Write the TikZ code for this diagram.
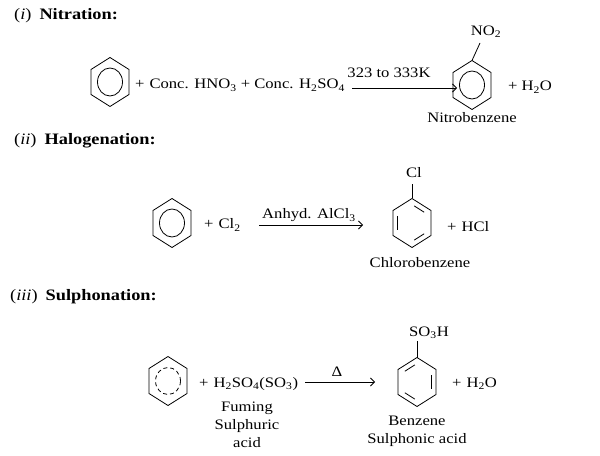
\documentclass[tikz,border=0pt]{standalone}
\usepackage{fontspec}
\setmainfont{Liberation Serif}[FakeStretch=1.15]
\usetikzlibrary{arrows.meta,calc}
\newcommand{\chs}[1]{\textsubscript{#1}}
\newcommand{\ringpath}{(0,-24.5)--(19,-12.5)--(19,12.5)--(0,24.5)--(-19,12.5)--(-19,-12.5)--cycle}
\tikzset{
  txt/.style={inner sep=0pt, font=\fontsize{14.5}{18}\selectfont},
  ttl/.style={inner sep=0pt, anchor=base west, font=\fontsize{16}{18}\selectfont},
  rarrow/.style={-{Straight Barb[length=4bp,width=8bp]}, line width=0.8bp},
  bond/.style={line width=0.8bp, line join=miter},
  aromatic/.pic={
    \coordinate (-top) at (0,-24.5);
    \draw[bond] \ringpath;
    \draw[bond] (0,0) ellipse [x radius=12.5bp, y radius=14bp];
  },
  dashring/.pic={
    \coordinate (-top) at (0,-24.5);
    \draw[bond] \ringpath;
    \draw[bond, dash pattern=on 4bp off 3bp] (0,0) ellipse [x radius=12.5bp, y radius=13.5bp];
  },
  kekR/.pic={
    \coordinate (-top) at (0,-24.5);
    \draw[bond] \ringpath;
    \draw[bond] ($(0,-18.5)!0.15!(14.3,-9.4)$) -- ($(0,-18.5)!0.85!(14.3,-9.4)$);
    \draw[bond] (-14.3,-7) -- (-14.3,7);
    \draw[bond] ($(14.3,9.4)!0.15!(0,18.5)$) -- ($(14.3,9.4)!0.85!(0,18.5)$);
  },
  kekL/.pic={
    \coordinate (-top) at (0,-24.5);
    \draw[bond] \ringpath;
    \draw[bond] ($(0,-18.5)!0.15!(-14.3,-9.4)$) -- ($(0,-18.5)!0.85!(-14.3,-9.4)$);
    \draw[bond] (14.3,-7) -- (14.3,7);
    \draw[bond] ($(-14.3,9.4)!0.15!(0,18.5)$) -- ($(-14.3,9.4)!0.85!(0,18.5)$);
  }
}
\begin{document}
\begin{tikzpicture}[x=1bp,y=-1bp]
\fill[white] (0,0) rectangle (600,456);
\useasboundingbox (0,0) rectangle (600,456);

% titles
\node[ttl] (t1) at (14,20) {(\textit{i})\hspace{8bp}\textbf{Nitration:}};
\node[ttl] (t2) at (14,145) {(\textit{ii})\hspace{8bp}\textbf{Halogenation:}};
\node[ttl] (t3) at (10,300) {(\textit{iii})\hspace{8bp}\textbf{Sulphonation:}};

% (i) Nitration
\pic (r1) at (110,82) {aromatic};
\node[txt, anchor=base west] (r1rest) at (135,89) {+\hspace{5bp}Conc. HNO\chs{3} + Conc. H\chs{2}SO\chs{4}};
\coordinate (a1s) at (352,88);
\coordinate (a1e) at (457,88);
\draw[rarrow] (a1s) -- (a1e);
\node[txt, anchor=base] (a1l) at (389,78) {323 to 333K};
\pic (p1) at (472,85) {aromatic};
\node[txt] (no2) at (486,32) {NO\chs{2}};
\coordinate (no2b) at (480,43);
\draw[bond] (p1-top) -- (no2b);
\node[txt] (nitro) at (472,118) {Nitrobenzene};
\node[txt, anchor=base west] (h2o1) at (508,91) {+\hspace{4bp}H\chs{2}O};

% (ii) Halogenation
\pic (r2) at (172,223) {aromatic};
\node[txt, anchor=base west] (cl2) at (204,229) {+\hspace{5bp}Cl\chs{2}};
\coordinate (a2s) at (259,225);
\coordinate (a2e) at (363,225);
\draw[rarrow] (a2s) -- (a2e);
\node[txt, anchor=base west] (a2l) at (262,219) {Anhyd. AlCl\chs{3}};
\pic (p2) at (412,223) {kekR};
\node[txt] (cl) at (414,173) {Cl};
\coordinate (clb) at (412,184);
\draw[bond] (p2-top) -- (clb);
\node[txt, anchor=base west] (hcl) at (447,232) {+\hspace{5bp}HCl};
\node[txt] (chloro) at (420,263) {Chlorobenzene};

% (iii) Sulphonation
\pic (r3) at (168,381) {dashring};
\node[txt, anchor=base west] (h2so4) at (199,387) {+\hspace{5bp}H\chs{2}SO\chs{4}(SO\chs{3})};
\node[txt, align=center] (fum) at (247,425) {Fuming\\Sulphuric\\acid};
\coordinate (a3s) at (305,382);
\coordinate (a3e) at (375,382);
\draw[rarrow] (a3s) -- (a3e);
\node[txt] (delta) at (337,372) {Δ};
\pic (p3) at (417,382) {kekL};
\node[txt] (so3h) at (429,333) {SO\chs{3}H};
\coordinate (so3hb) at (417,341);
\draw[bond] (p3-top) -- (so3hb);
\node[txt, anchor=base west] (h2o3) at (452,387) {+\hspace{5bp}H\chs{2}O};
\node[txt, align=center] (bsa) at (417,431) {Benzene\\Sulphonic acid};
\end{tikzpicture}
\end{document}
